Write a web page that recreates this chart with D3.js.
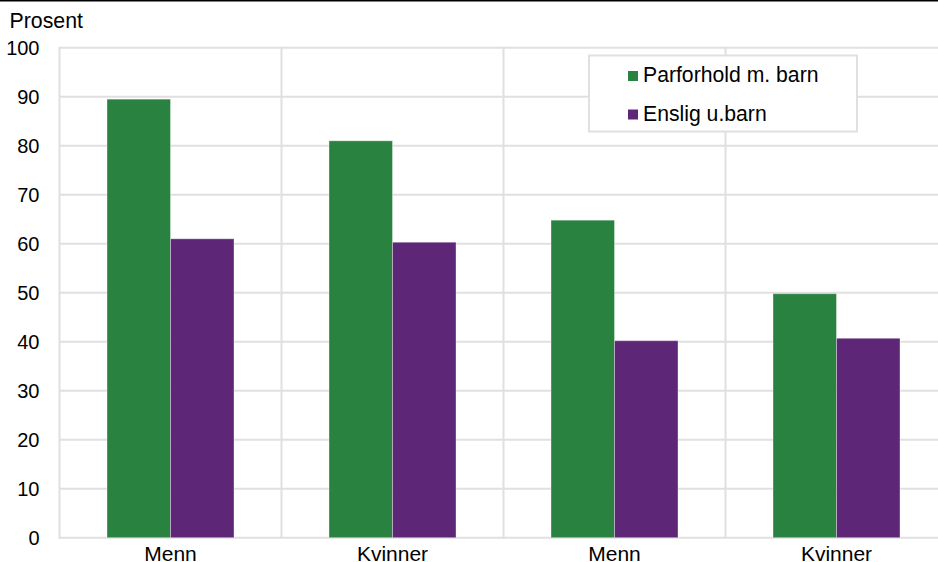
<!DOCTYPE html>
<html><head><meta charset="utf-8">
<script src="https://cdn.jsdelivr.net/npm/d3@7"></script>
<style>
html,body{margin:0;padding:0;background:#fff;overflow:hidden}
text{font-family:"Liberation Sans",Arial,sans-serif;fill:#000}
</style></head>
<body>
<svg id="chart" width="938" height="562"></svg>
<script>
const categories = ["Menn", "Kvinner", "Menn", "Kvinner"];
const seriesNames = ["Parforhold m. barn", "Enslig u.barn"];
const parforhold = [89.5, 81.0, 64.8, 49.8];
const enslig = [61.0, 60.3, 40.2, 40.7];
const yTicks = [0, 10, 20, 30, 40, 50, 60, 70, 80, 90, 100];
const colors = ["#2a8241", "#5e2676"];
const yLabel = "Prosent";

(function () {
const svg = d3.select("#chart");
const W = 938, H = 562;
const mLeft = 59.5, mRight = 947.5, mTop = 47.7, mBottom = 537.7;
const grid = "#e0e0e0";

const x = d3.scaleBand().domain(d3.range(categories.length)).range([mLeft, mRight]).padding(0);
const bw = x.bandwidth();
const xs = d3.scaleBand().domain([0, 1]).range([bw * 0.214, bw * 0.786]).padding(0);
const y = d3.scaleLinear().domain([0, 100]).range([mBottom, mTop]);

// top black rule
svg.append("line").attr("x1", 0).attr("x2", W).attr("y1", 0.75).attr("y2", 0.75)
  .attr("stroke", "#000").attr("stroke-width", 1.5);

// horizontal gridlines
svg.append("g").selectAll("line").data(yTicks).join("line")
  .attr("x1", mLeft).attr("x2", W).attr("y1", d => y(d)).attr("y2", d => y(d))
  .attr("stroke", grid).attr("stroke-width", 2);

// vertical gridlines (category boundaries)
const bounds = d3.range(categories.length + 1).map(i => mLeft + i * bw);
svg.append("g").selectAll("line").data(bounds).join("line")
  .attr("x1", d => d).attr("x2", d => d).attr("y1", mTop - 1).attr("y2", mBottom + 1)
  .attr("stroke", grid).attr("stroke-width", 2);

// bars
const data = categories.map((c, i) => [parforhold[i], enslig[i]]);
const g = svg.append("g");
data.forEach((vals, i) => {
  g.append("g").attr("transform", `translate(${x(i)},0)`)
    .selectAll("rect").data(vals).join("rect")
    .attr("x", (d, j) => xs(j)).attr("width", xs.bandwidth())
    .attr("y", d => y(d)).attr("height", d => y(0) - y(d))
    .attr("fill", (d, j) => colors[j])
    .attr("stroke", "rgba(255,255,255,0.35)").attr("stroke-width", 1);
});

// y axis labels
const yAxis = d3.axisLeft(y).tickValues(yTicks).tickSize(0).tickPadding(20);
const ya = svg.append("g").attr("transform", `translate(${mLeft},0)`).call(yAxis);
ya.select(".domain").remove();
ya.selectAll("text").attr("font-size", 20).attr("dy", "0.35em")
  .style("font-family", '"Liberation Sans",Arial,sans-serif').attr("fill", "#000");

// x axis labels
const xAxis = d3.axisBottom(x).tickFormat(i => categories[i]).tickSize(0).tickPadding(0);
const xa = svg.append("g").attr("transform", `translate(0,${mBottom})`).call(xAxis);
xa.select(".domain").remove();
xa.selectAll("text").attr("font-size", 21).attr("y", 23.5).attr("dy", 0)
  .style("font-family", '"Liberation Sans",Arial,sans-serif').attr("fill", "#000");

// y label
svg.append("text").attr("x", 9.5).attr("y", 28).attr("font-size", 21.3).text(yLabel);

// legend
const lg = svg.append("g");
lg.append("rect").attr("x", 589).attr("y", 55.5).attr("width", 268).attr("height", 76)
  .attr("fill", "#fff").attr("stroke", grid).attr("stroke-width", 2);
seriesNames.forEach((s, j) => {
  const yy = 71 + j * 38.5;
  lg.append("rect").attr("x", 628).attr("y", yy).attr("width", 10).attr("height", 10).attr("fill", colors[j]);
  lg.append("text").attr("x", 643).attr("y", yy + 11).attr("font-size", 21.2).text(s);
});
})();
</script>
</body></html>
